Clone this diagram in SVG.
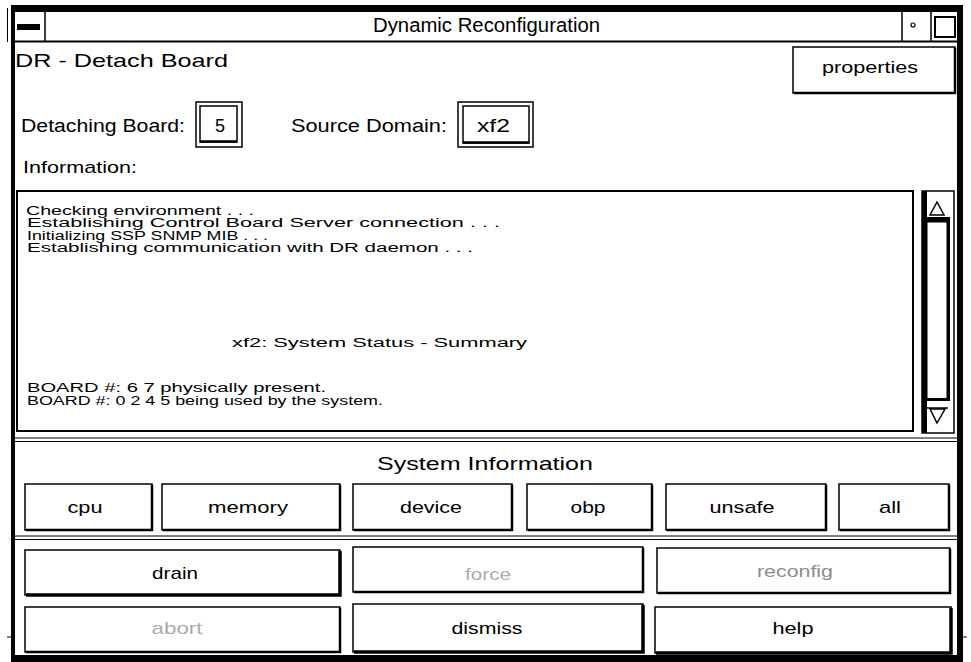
<svg xmlns="http://www.w3.org/2000/svg" width="971" height="662" viewBox="0 0 971 662">
  <style>
    text { font-family: "Liberation Sans", Arial, Helvetica, sans-serif; fill: #000; }
    .ln { fill: none; stroke: #000; stroke-width: 1.5; }
    .btn { fill: #fff; stroke: #000; stroke-width: 1.5; }
    .sh { fill: none; stroke: #000; stroke-width: 2.5; }
    .sh2 { fill: none; stroke: #000; stroke-width: 3.5; }
    .lbl { font-size: 17px; text-anchor: middle; }
    .dim { fill: #ababab; }
    .log { font-size: 12px; }
    .fld { font-size: 18px; }
  </style>

  <rect width="971" height="662" fill="#fff"/>

  <!-- window frame and title bar -->
  <g id="frame">
    <rect x="11" y="5" width="952" height="7" fill="#000"/>
    <rect x="11" y="5" width="4" height="657" fill="#000"/>
    <rect x="957" y="5" width="6" height="657" fill="#000"/>
    <rect x="11" y="655" width="952" height="7" fill="#000"/>
    <line x1="13" y1="41.5" x2="957" y2="41.5" stroke="#000" stroke-width="2"/>
    <line x1="7.5" y1="8" x2="7.5" y2="42" stroke="#000" stroke-width="1"/>
    <line x1="7" y1="637" x2="11" y2="637" stroke="#000" stroke-width="1"/>
    <line x1="963" y1="637" x2="967" y2="637" stroke="#000" stroke-width="1"/>
  </g>

  <g id="title-bar">
    <line x1="45" y1="7" x2="45" y2="42" class="ln"/>
    <rect x="17" y="24" width="23" height="6" fill="#000"/>
    <text x="373" y="32" font-size="20" textLength="227" lengthAdjust="spacingAndGlyphs">Dynamic Reconfiguration</text>
    <line x1="902" y1="12" x2="902" y2="42" class="ln"/>
    <circle cx="913" cy="25" r="2" fill="none" stroke="#000" stroke-width="1.2"/>
    <line x1="931" y1="7" x2="931" y2="42" class="ln"/>
    <rect x="935" y="17" width="20" height="20" fill="none" stroke="#000" stroke-width="2"/>
  </g>

  <!-- header -->
  <g id="header">
    <text x="15" y="67" font-size="19" textLength="213" lengthAdjust="spacingAndGlyphs">DR - Detach Board</text>
  </g>

  <g id="btn-properties">
    <rect x="793" y="47" width="162" height="46" class="btn"/>
    <path d="M794 93 H955 V48" class="sh"/>
    <text x="870" y="73" class="lbl" textLength="96" lengthAdjust="spacingAndGlyphs">properties</text>
  </g>

  <!-- board / domain fields -->
  <g id="field-board">
    <text x="21" y="132" class="fld" textLength="164" lengthAdjust="spacingAndGlyphs">Detaching Board:</text>
    <rect x="196" y="102" width="46" height="45" class="ln"/>
    <rect x="200" y="106" width="37" height="36" class="ln"/>
    <line x1="200" y1="141.5" x2="237" y2="141.5" stroke="#000" stroke-width="2.5"/>
    <text x="220" y="132" class="fld" text-anchor="middle">5</text>
  </g>

  <g id="field-domain">
    <text x="291" y="132" class="fld" textLength="156" lengthAdjust="spacingAndGlyphs">Source Domain:</text>
    <rect x="458" y="102" width="75" height="45" class="ln"/>
    <rect x="463" y="106" width="66" height="37" class="ln"/>
    <line x1="463" y1="142.5" x2="529" y2="142.5" stroke="#000" stroke-width="2.5"/>
    <text x="477" y="132" class="fld" textLength="33" lengthAdjust="spacingAndGlyphs">xf2</text>
  </g>

  <g id="info-label">
    <text x="23" y="173" font-size="17" textLength="114" lengthAdjust="spacingAndGlyphs">Information:</text>
  </g>

  <!-- message log -->
  <g id="log">
    <rect x="17" y="191" width="896" height="240" fill="#fff" stroke="#000" stroke-width="2"/>
    <text class="log" x="26" y="214.5" textLength="228" lengthAdjust="spacingAndGlyphs">Checking environment . . .</text>
    <text class="log" x="27" y="227" textLength="473" lengthAdjust="spacingAndGlyphs">Establishing Control Board Server connection . . .</text>
    <text class="log" x="27" y="239.5" textLength="241" lengthAdjust="spacingAndGlyphs">Initializing SSP SNMP MIB . . .</text>
    <text class="log" x="27" y="252" textLength="446" lengthAdjust="spacingAndGlyphs">Establishing communication with DR daemon . . .</text>
    <text class="log" x="232" y="347" textLength="295" lengthAdjust="spacingAndGlyphs">xf2: System Status - Summary</text>
    <text class="log" x="27" y="392" textLength="299" lengthAdjust="spacingAndGlyphs">BOARD #:  6  7  physically present.</text>
    <text class="log" x="27" y="404.5" textLength="356" lengthAdjust="spacingAndGlyphs">BOARD #:  0  2  4  5  being used by the system.</text>
  </g>

  <!-- vertical scrollbar -->
  <g id="scrollbar">
    <rect x="922" y="191" width="32" height="242" class="ln"/>
    <rect x="922" y="191" width="5" height="242" fill="#000"/>
    <path d="M937 202 L944 215 H930 Z" fill="#fff" stroke="#000" stroke-width="1.5"/>
    <rect x="927" y="217" width="23" height="5" fill="#000"/>
    <rect x="927" y="222" width="20" height="177" fill="#fff" stroke="#000" stroke-width="1"/>
    <rect x="947" y="222" width="3" height="179" fill="#000"/>
    <rect x="927" y="398" width="23" height="3" fill="#000"/>
    <line x1="927" y1="408" x2="948" y2="408" stroke="#000" stroke-width="1.5"/>
    <path d="M930 409 H945 L937 423 Z" fill="#fff" stroke="#000" stroke-width="1.5"/>
  </g>

  <!-- section separators -->
  <g id="separators">
    <line x1="15" y1="438" x2="957" y2="438" stroke="#000" stroke-width="1.2"/>
    <line x1="15" y1="441.5" x2="957" y2="441.5" stroke="#000" stroke-width="1.2"/>
    <line x1="15" y1="536" x2="957" y2="536" stroke="#000" stroke-width="1.2"/>
    <line x1="15" y1="539.5" x2="957" y2="539.5" stroke="#000" stroke-width="1.2"/>
  </g>

  <g id="sysinfo-label">
    <text x="485" y="470" font-size="19" text-anchor="middle" textLength="216" lengthAdjust="spacingAndGlyphs">System Information</text>
  </g>

  <!-- system information buttons -->
  <g id="btn-cpu">
    <rect x="25" y="484" width="127" height="46" class="btn"/>
    <path d="M26 530 H152 V485" class="sh"/>
    <text x="85" y="513" class="lbl" textLength="35" lengthAdjust="spacingAndGlyphs">cpu</text>
  </g>
  <g id="btn-memory">
    <rect x="162" y="484" width="178" height="46" class="btn"/>
    <path d="M163 530 H340 V485" class="sh"/>
    <text x="248" y="513" class="lbl" textLength="80" lengthAdjust="spacingAndGlyphs">memory</text>
  </g>
  <g id="btn-device">
    <rect x="353" y="484" width="159" height="46" class="btn"/>
    <path d="M354 530 H512 V485" class="sh"/>
    <text x="431" y="513" class="lbl" textLength="62" lengthAdjust="spacingAndGlyphs">device</text>
  </g>
  <g id="btn-obp">
    <rect x="527" y="484" width="125" height="46" class="btn"/>
    <path d="M528 530 H652 V485" class="sh"/>
    <text x="588" y="513" class="lbl" textLength="35" lengthAdjust="spacingAndGlyphs">obp</text>
  </g>
  <g id="btn-unsafe">
    <rect x="666" y="484" width="160" height="46" class="btn"/>
    <path d="M667 530 H826 V485" class="sh"/>
    <text x="742" y="513" class="lbl" textLength="65" lengthAdjust="spacingAndGlyphs">unsafe</text>
  </g>
  <g id="btn-all">
    <rect x="839" y="484" width="110" height="46" class="btn"/>
    <path d="M840 530 H949 V485" class="sh"/>
    <text x="890" y="513" class="lbl" textLength="22" lengthAdjust="spacingAndGlyphs">all</text>
  </g>

  <!-- action buttons -->
  <g id="btn-drain">
    <rect x="25" y="550" width="315" height="45" class="btn"/>
    <path d="M26 595 H340 V551" class="sh2"/>
    <text x="175" y="579" class="lbl" textLength="46" lengthAdjust="spacingAndGlyphs">drain</text>
  </g>
  <g id="btn-force">
    <rect x="353" y="547" width="290" height="45" class="btn"/>
    <path d="M354 592 H643 V548" class="sh"/>
    <text x="488" y="580" class="lbl dim" textLength="46" lengthAdjust="spacingAndGlyphs">force</text>
  </g>
  <g id="btn-reconfig">
    <rect x="657" y="548" width="293" height="45" class="btn"/>
    <path d="M658 593 H950 V549" class="sh"/>
    <text x="795" y="577" class="lbl" style="fill:#8c8c8c" textLength="76" lengthAdjust="spacingAndGlyphs">reconfig</text>
  </g>
  <g id="btn-abort">
    <rect x="25" y="607" width="315" height="45" class="btn"/>
    <path d="M26 652 H340 V608" class="sh"/>
    <text x="177" y="634" class="lbl dim" textLength="51" lengthAdjust="spacingAndGlyphs">abort</text>
  </g>
  <g id="btn-dismiss">
    <rect x="353" y="604" width="290" height="48" class="btn"/>
    <path d="M354 652 H643 V605" class="sh2"/>
    <text x="487" y="634" class="lbl" textLength="71" lengthAdjust="spacingAndGlyphs">dismiss</text>
  </g>
  <g id="btn-help">
    <rect x="655" y="607" width="296" height="46" class="btn"/>
    <path d="M656 653 H951 V608" class="sh2"/>
    <text x="793" y="634" class="lbl" textLength="41" lengthAdjust="spacingAndGlyphs">help</text>
  </g>

  <g id="connectors"/>
</svg>
